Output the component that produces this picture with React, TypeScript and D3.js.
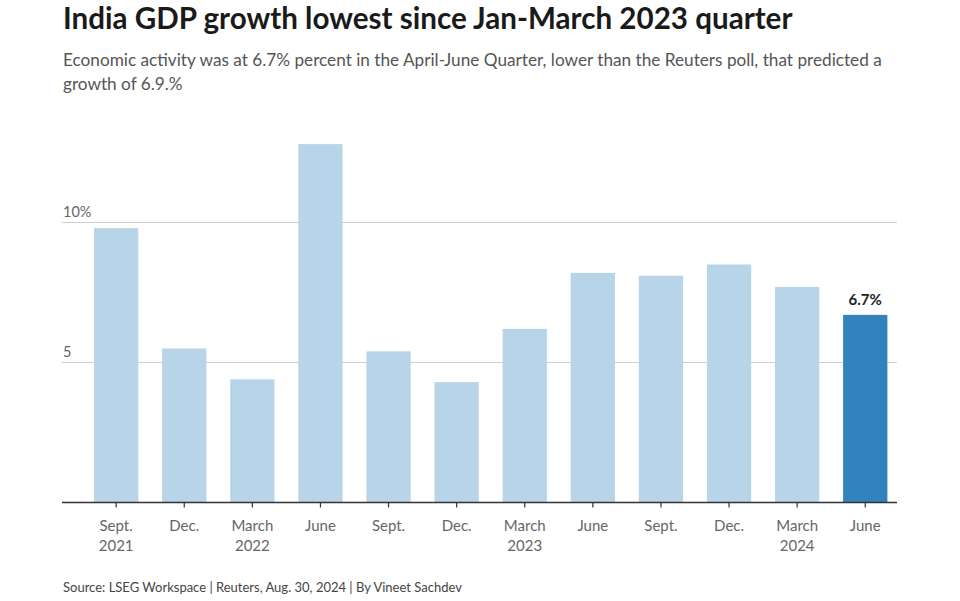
import React from "react";
import * as d3 from "d3";

const months = ["Sept.", "Dec.", "March", "June", "Sept.", "Dec.", "March", "June", "Sept.", "Dec.", "March", "June"];
const years = ["2021", "", "2022", "", "", "", "2023", "", "", "", "2024", ""];
const growth = [9.8, 5.5, 4.4, 12.8, 5.4, 4.3, 6.2, 8.2, 8.1, 8.5, 7.7, 6.7];
const yTicks = [5, 10];
const yTickLabels = ["5", "10%"];

const W = 960;
const H = 601;
const FONT = "Lato, 'Open Sans', sans-serif";

export default function App() {
  const idx = growth.map((_, i) => i);
  const x = d3.scaleBand<number>().domain(idx).range([82.1, 899.3]).paddingInner(0.35).paddingOuter(0.175);
  const y = d3.scaleLinear().domain([0, 13]).range([502.5, 138.5]);
  const last = growth.length - 1;
  return (
    <svg width={W} height={H} style={{ position: "absolute", left: 0, top: 0, background: "#fff" }} fontFamily={FONT}>
      <text x={63} y={29} fontSize={29.6} fontWeight={700} fill="#1a1a1a">India GDP growth lowest since Jan-March 2023 quarter</text>
      <text x={63} y={66} fontSize={17.2} fill="#555">Economic activity was at 6.7% percent in the April-June Quarter, lower than the Reuters poll, that predicted a</text>
      <text x={63} y={90} fontSize={17.2} fill="#555">growth of 6.9.%</text>

      {yTicks.map((t, i) => (
        <g key={t}>
          <line x1={62} x2={897} y1={y(t)} y2={y(t)} stroke="#cfcfcf" strokeWidth={1.2} />
          <text x={63} y={y(t) - 6} fontSize={14.5} fill="#666">{yTickLabels[i]}</text>
        </g>
      ))}

      {growth.map((v, i) => (
        <rect key={i} x={x(i)} width={x.bandwidth()} y={y(v)} height={y(0) - y(v)} fill={i === last ? "#3182bd" : "#b8d4e8"} />
      ))}

      <text x={(x(last) as number) + x.bandwidth() / 2} y={y(growth[last]) - 10} fontSize={15} fontWeight={700} fill="#222" textAnchor="middle">{growth[last]}%</text>

      <line x1={62} x2={897} y1={y(0)} y2={y(0)} stroke="#333" strokeWidth={1.3} />
      {idx.map((i) => {
        const cx = (x(i) as number) + x.bandwidth() / 2;
        return (
          <g key={i}>
            <line x1={cx} x2={cx} y1={y(0)} y2={y(0) + 5} stroke="#333" strokeWidth={1.2} />
            <text x={cx} y={531} fontSize={15} fill="#666" textAnchor="middle">{months[i]}</text>
            {years[i] && <text x={cx} y={551} fontSize={15} fill="#666" textAnchor="middle">{years[i]}</text>}
          </g>
        );
      })}

      <text x={63} y={592} fontSize={13} fill="#444">Source: LSEG Workspace | Reuters, Aug. 30, 2024 | By Vineet Sachdev</text>
    </svg>
  );
}
